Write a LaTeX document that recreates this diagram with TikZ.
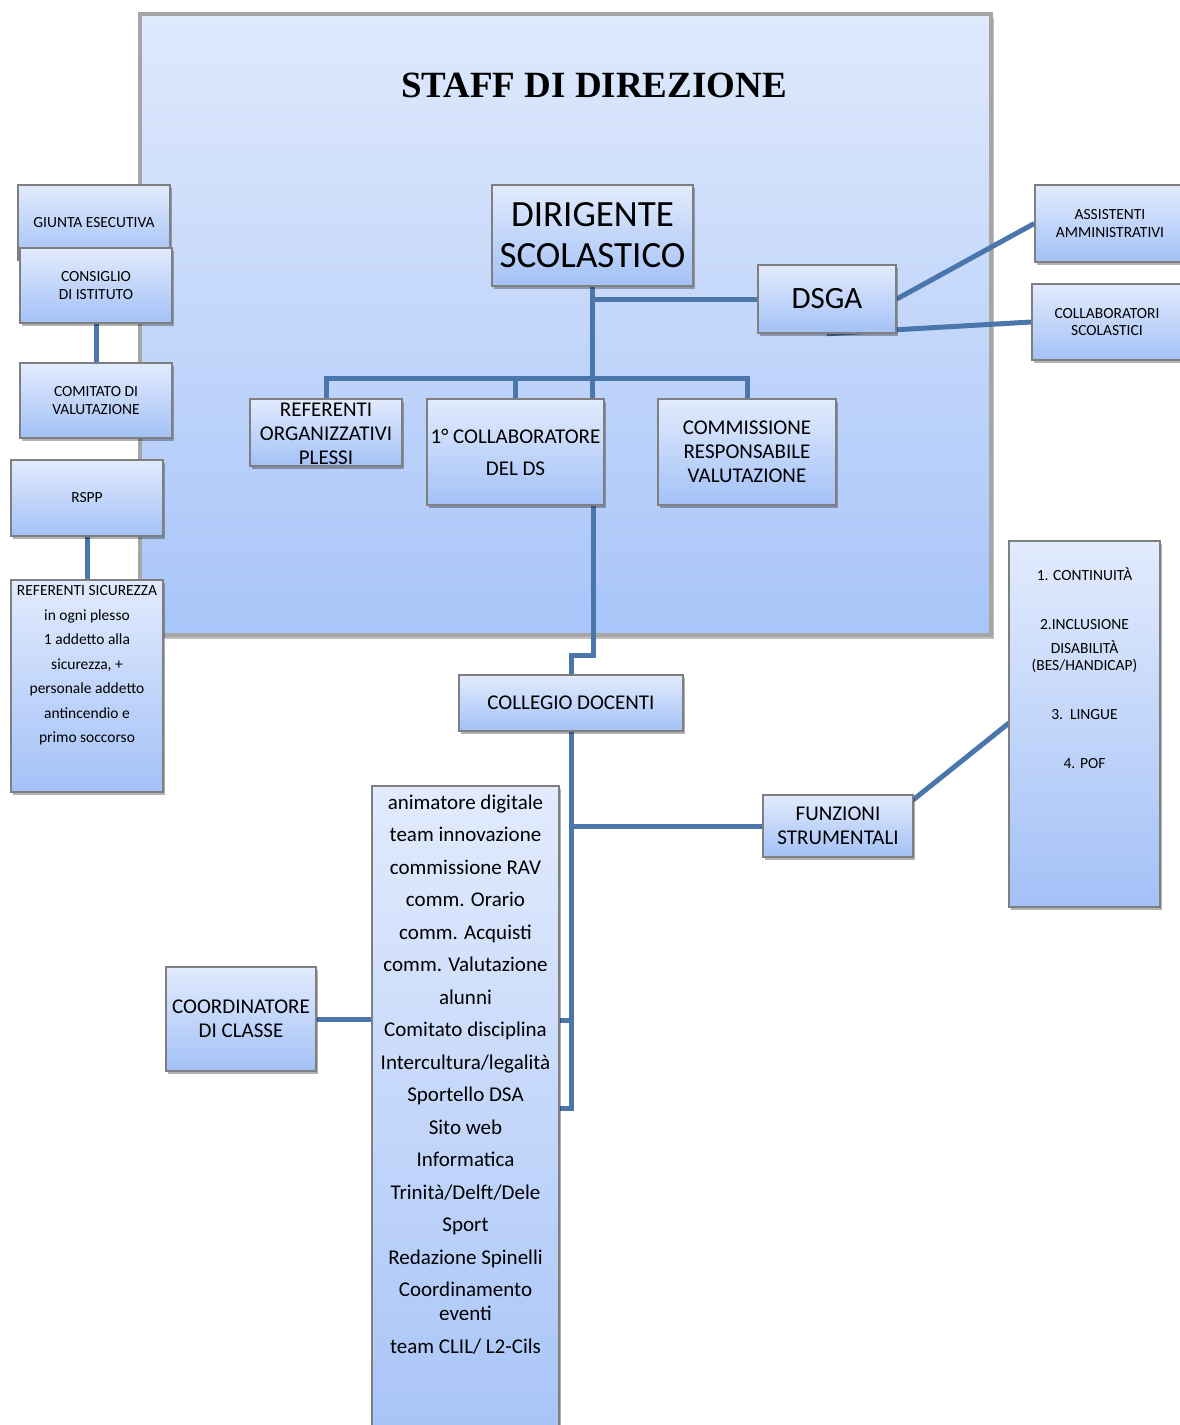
\documentclass[tikz,border=0pt]{standalone}
\usepackage{fontspec}
\setmainfont{Carlito}
\newfontfamily\titlefont{Liberation Serif}
\usetikzlibrary{shadows}
\pgfdeclarelayer{bottom}
\pgfdeclarelayer{background}
\pgfsetlayers{bottom,background,main}
\definecolor{boxtop}{HTML}{E2EBFD}
\definecolor{boxbot}{HTML}{A3C1F7}
\definecolor{stafftop}{HTML}{DFE9FC}
\definecolor{staffbot}{HTML}{A8C5F9}
\definecolor{conncol}{HTML}{4A76AB}
\definecolor{boxline}{HTML}{7F7F7F}
\tikzset{
  box/.style={draw=boxline, line width=1.5pt, top color=boxtop, bottom color=boxbot,
    align=center, inner sep=0pt,
    drop shadow={shadow xshift=2pt, shadow yshift=-3pt, fill=black, opacity=.3}},
  staffbox/.style={draw=gray!70, line width=4pt, top color=stafftop, bottom color=staffbot,
    drop shadow={shadow xshift=3pt, shadow yshift=-4pt, fill=black, opacity=.25}},
  fs/.style={font=\fontsize{15.5}{17.5}\selectfont},
  fm/.style={font=\fontsize{21}{24}\selectfont},
  fl/.style={font=\fontsize{37}{41}\selectfont},
  lbl/.style={align=center, inner sep=0pt},
  conn/.style={draw=conncol, line width=5pt}
}
\begin{document}
\begin{tikzpicture}[x=1pt,y=-1pt]
\useasboundingbox (0,0) rectangle (1179,1425);
\begin{pgfonlayer}{bottom}
\node[staffbox, minimum width=851, minimum height=621] (staff) at (565.5,324.5) {};
\node[font=\titlefont\bfseries\fontsize{37}{41}\selectfont] (title) at (594,85) {STAFF DI DIREZIONE};
\end{pgfonlayer}

% top structure
\node[box, fl, minimum width=201, minimum height=101] (dir) at (592.5,235.5) {DIRIGENTE\\SCOLASTICO};
\node[box, font=\fontsize{31}{35}\selectfont, minimum width=138, minimum height=68] (dsga) at (827,299) {DSGA};
\node[box, fm, minimum width=152, minimum height=67,
  label={[lbl, fm, yshift=-1.5pt]center:{REFERENTI\\ORGANIZZATIVI\\PLESSI}}] (ref) at (326,432.5) {};
\node[box, font=\fontsize{21}{32}\selectfont, minimum width=177, minimum height=106] (col1) at (515.5,452) {1° COLLABORATORE\\DEL DS};
\node[box, fm, minimum width=178, minimum height=106] (comm) at (747,452) {COMMISSIONE\\RESPONSABILE\\VALUTAZIONE};

% left column
\node[box, fs, minimum width=152, minimum height=75] (giunta) at (94,222.5) {GIUNTA ESECUTIVA};
\node[box, fs, minimum width=152, minimum height=75] (cons) at (96,285.5) {CONSIGLIO\\DI ISTITUTO};
\node[box, fs, minimum width=152, minimum height=75] (comi) at (96,400.5) {COMITATO DI\\VALUTAZIONE};
\node[box, fs, minimum width=152, minimum height=76] (rspp) at (87,498) {RSPP};
\node[box, minimum width=152, minimum height=212,
  label={[lbl, font=\fontsize{15.5}{24.5}\selectfont, anchor=north, yshift=-6pt]north:{REFERENTI SICUREZZA\\in ogni plesso\\1 addetto alla\\sicurezza, +\\personale addetto\\antincendio e\\primo soccorso}}] (refsic) at (87,686) {};

% right column
\node[box, fs, minimum width=150, minimum height=77] (assist) at (1110,223.5) {ASSISTENTI\\AMMINISTRATIVI};
\node[box, fs, minimum width=150, minimum height=76] (collab) at (1107,322) {COLLABORATORI\\SCOLASTICI};

% lower part
\node[box, fm, minimum width=224, minimum height=56] (coll) at (571,703) {COLLEGIO DOCENTI};
\node[box, fm, minimum width=150, minimum height=62] (funz) at (838,826) {FUNZIONI\\STRUMENTALI};
\node[box, minimum width=151, minimum height=366,
  label={[lbl, font=\fontsize{15.5}{17}\selectfont, anchor=north, yshift=-27pt]north:{1. CONTINUITÀ\\[32pt]2.INCLUSIONE\\[7pt]DISABILITÀ\\(BES/HANDICAP)\\[32pt]3.\ \ LINGUE\\[32pt]4. POF}}] (flist) at (1084.5,724) {};
\node[box, fm, minimum width=150, minimum height=104] (coord) at (241,1019) {COORDINATORE\\DI CLASSE};
\node[box, minimum width=187, minimum height=700,
  label={[lbl, font=\fontsize{21}{32.5}\selectfont, anchor=north, yshift=-9pt]north:{animatore digitale\\team innovazione\\commissione RAV\\comm. Orario\\comm. Acquisti\\comm. Valutazione\\alunni\\Comitato disciplina\\Intercultura/legalità\\Sportello DSA\\Sito web\\Informatica\\Trinità/Delft/Dele\\Sport\\Redazione Spinelli\\Coordinamento\\[-8.5pt]eventi\\team CLIL/ L2-Cils}}] (list) at (465.5,1136) {};

% helper coordinates
\coordinate (busY) at (0,378);
\coordinate (kink) at (593,655);
\coordinate (trunkEnd) at (571,1108);
\coordinate (tickY) at (0,1020);
\coordinate (funzA) at (913,800);
\coordinate (flistA) at (1009,723);

\begin{pgfonlayer}{background}
\draw[conn] (dir.south) -- (dir.south |- col1.north);
\draw[conn] (ref.north) |- (comm.north |- busY) -- (comm.north);
\draw[conn] (col1.north) -- (col1.north |- busY);
\draw[conn] (dsga.west) -- (dsga.west -| dir.south);
\draw[conn] (dsga.east) -- (assist.west);
\draw[conn] (dsga.south) -- (collab.west);
\draw[conn] (cons.south) -- (comi.north);
\draw[conn] (rspp.south) -- (refsic.north);
\draw[conn] (col1.south -| kink) -- (kink) -| (coll.north);
\draw[conn] (coll.south) -- (trunkEnd) -- (list.east |- trunkEnd);
\draw[conn] (list.east |- tickY) -- (trunkEnd |- tickY);
\draw[conn] (coll.south |- funz.west) -- (funz.west);
\draw[conn] (coord.east) -- (list.west |- coord.east);
\draw[conn] (funzA) -- (flistA);
\end{pgfonlayer}
\end{tikzpicture}
\end{document}
